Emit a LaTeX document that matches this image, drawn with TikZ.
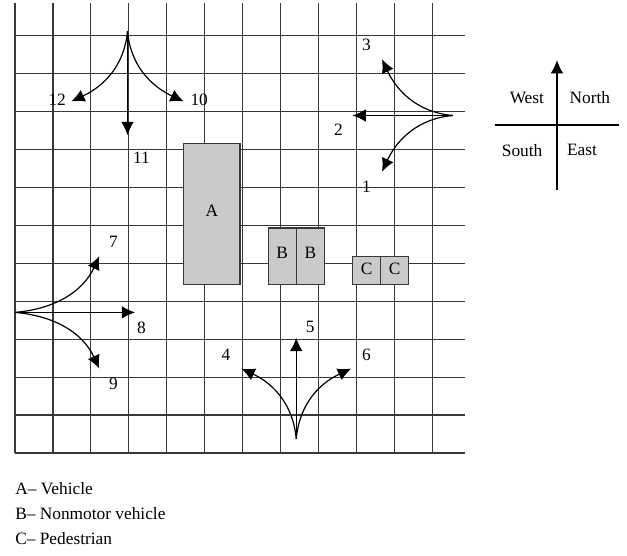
\documentclass[tikz,border=0pt]{standalone}
\usepackage{fontspec}
\setmainfont{Liberation Serif}
\usetikzlibrary{arrows.meta}
\definecolor{gridc}{rgb}{0.22,0.22,0.22}
\definecolor{shade}{RGB}{201,202,204}
\tikzset{
  gridline/.style={draw=gridc, line width=0.9pt},
  flow/.style={-{Latex[length=10pt,width=9.5pt]}, line width=0.9pt, black},
  lbl/.style={font=\fontsize{13}{15}\selectfont, inner sep=0pt},
  leg/.style={font=\fontsize{13}{15}\selectfont, inner sep=0pt, anchor=west},
  box/.style={fill=shade, draw=gridc, line width=0.9pt}
}
\begin{document}
\begin{tikzpicture}[x=21.09pt, y=21.09pt]
\useasboundingbox (-0.533,-3.627) rectangle (21.76,16.107);
% grid
\draw[gridline] (0,0) grid (16,16);
% shaded areas
\path[box] (6,6) rectangle (8,11);
\path[box] (9,6) rectangle (11,8);
\draw[gridline] (10,6) -- (10,8);
\path[box] (12,6) rectangle (14,7);
\draw[gridline] (13,6) -- (13,7);
\node[lbl] (A) at (7,8.6) {A};
\node[lbl] (B1) at (9.5,7.1) {B};
\node[lbl] (B2) at (10.5,7.1) {B};
\node[lbl] (C1) at (12.5,6.55) {C};
\node[lbl] (C2) at (13.5,6.55) {C};
% top group
\coordinate (oT) at (4,15);
\coordinate (t11) at (4,11.3);
\coordinate (t12) at (2,12.5);
\coordinate (t10) at (6,12.5);
\draw[flow] (oT) -- (t11);
\draw[flow] (oT) to[out=-95,in=25] (t12);
\draw[flow] (oT) to[out=-85,in=155] (t10);
\node[lbl] (n12) at (1.5,12.55) {12};
\node[lbl] (n10) at (6.55,12.55) {10};
\node[lbl] (n11) at (4.5,10.5) {11};
% right group
\coordinate (oR) at (15.57,12);
\coordinate (t2) at (12,12);
\coordinate (t3) at (13.05,14);
\coordinate (t1) at (13.05,10);
\draw[flow] (oR) -- (t2);
\draw[flow] (oR) to[out=175,in=-65] (t3);
\draw[flow] (oR) to[out=185,in=65] (t1);
\node[lbl] (n3) at (12.5,14.5) {3};
\node[lbl] (n2) at (11.5,11.5) {2};
\node[lbl] (n1) at (12.5,9.45) {1};
% left group
\coordinate (oL) at (0,5);
\coordinate (t8) at (4.27,5);
\coordinate (t7) at (3,7);
\coordinate (t9) at (3,3);
\draw[flow] (oL) -- (t8);
\draw[flow] (oL) to[out=5,in=-115] (t7);
\draw[flow] (oL) to[out=-5,in=115] (t9);
\node[lbl] (n7) at (3.5,7.5) {7};
\node[lbl] (n8) at (4.5,4.45) {8};
\node[lbl] (n9) at (3.5,2.45) {9};
% bottom group
\coordinate (oB) at (10,0.5);
\coordinate (t5) at (10,4.1);
\coordinate (t4) at (8.05,3);
\coordinate (t6) at (11.95,3);
\draw[flow] (oB) -- (t5);
\draw[flow] (oB) to[out=95,in=-25] (t4);
\draw[flow] (oB) to[out=85,in=-155] (t6);
\node[lbl] (n5) at (10.5,4.5) {5};
\node[lbl] (n4) at (7.5,3.5) {4};
\node[lbl] (n6) at (12.5,3.5) {6};
% compass
\coordinate (cb) at (19.27,9.35);
\coordinate (ct) at (19.27,13.97);
\coordinate (cl) at (17.07,11.66);
\coordinate (cr) at (21.48,11.66);
\draw[flow] (cb) -- (ct);
\draw[line width=0.9pt] (cl) -- (cr);
\node[lbl] (west) at (18.2,12.62) {West};
\node[lbl] (north) at (20.44,12.62) {North};
\node[lbl] (south) at (18.03,10.77) {South};
\node[lbl] (east) at (20.16,10.77) {East};
% legend
\node[leg] (lA) at (0,-1.26) {A– Vehicle};
\node[leg] (lB) at (0,-2.15) {B– Nonmotor vehicle};
\node[leg] (lC) at (0,-3.04) {C– Pedestrian};
\end{tikzpicture}
\end{document}
